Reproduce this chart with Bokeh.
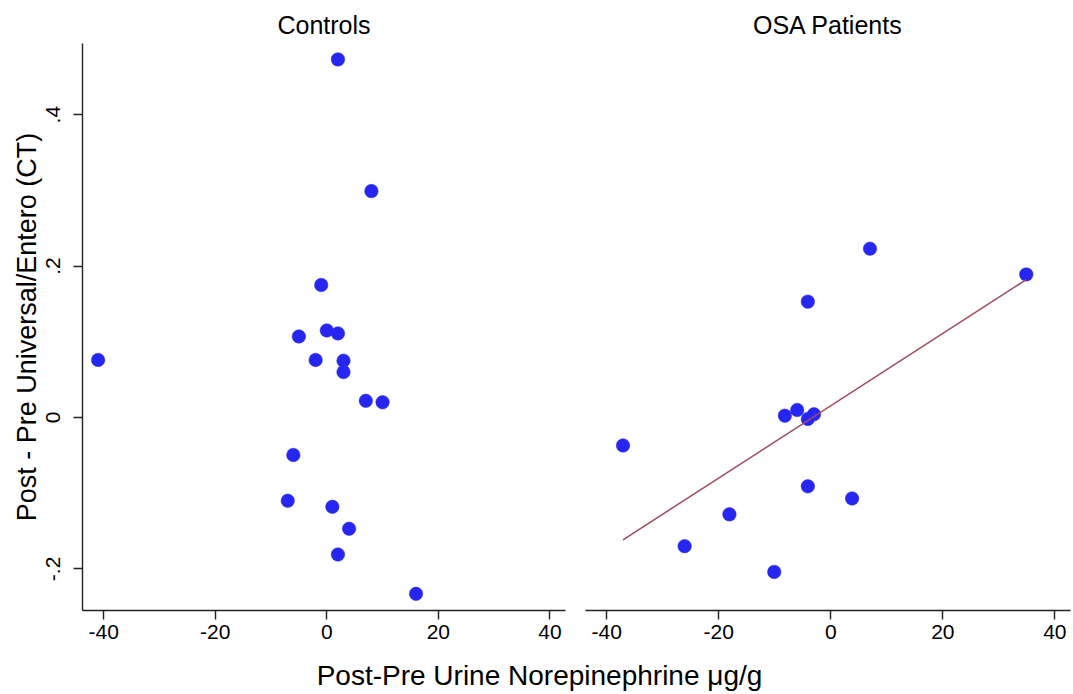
import numpy as np
from bokeh.plotting import figure
from bokeh.layouts import column, row
from bokeh.models import Range1d, FixedTicker, Label
from bokeh.embed import file_html
from bokeh.resources import INLINE

# ---- data ----
ctrl_x = [2, 8, -1, -5, 0, 2, -41, -2, 3, 3, 7, 10, -6, -7, 1, 4, 2, 16]
ctrl_y = [0.473, 0.299, 0.175, 0.107, 0.115, 0.111, 0.076, 0.076, 0.075, 0.060,
          0.022, 0.020, -0.0495, -0.110, -0.118, -0.147, -0.181, -0.233]

osa_x = [7, 34.9, -4.1, -8.2, -6, -4.1, -3, -37.1, -4.1, 3.8, -18.1, -26.1, -10.1]
osa_y = [0.223, 0.189, 0.153, 0.0024, 0.0099, -0.002, 0.0042, -0.037, -0.091,
         -0.107, -0.128, -0.170, -0.204]

panel_titles = ["Controls", "OSA Patients"]
x_ticks = [-40, -20, 0, 20, 40]
x_tick_labels = {-40: "-40", -20: "-20", 0: "0", 20: "20", 40: "40"}
y_ticks = [-0.2, 0, 0.2, 0.4]
y_tick_labels = {-0.2: "-.2", 0: "0", 0.2: ".2", 0.4: ".4"}
x_label = "Post-Pre Urine Norepinephrine \u03bcg/g"
y_label = "Post - Pre Universal/Entero (CT)"

FONT = "Liberation Sans"
PT_COLOR = "#2626f0"
LINE_COLOR = "#a34b5e"
AX_COLOR = "#222222"

x_rng = (-43.8, 42.8)
y_rng = (-0.255, 0.494)

H = 650


def make_panel(title, width, left_border, right_border, with_y):
    p = figure(width=width, height=H, toolbar_location=None, output_backend="svg",
               x_range=Range1d(*x_rng), y_range=Range1d(*y_rng),
               y_axis_location="left" if with_y else None,
               min_border_left=left_border, min_border_right=right_border,
               min_border_top=43, min_border_bottom=40, title=title)
    p.outline_line_color = None
    p.xgrid.visible = False
    p.ygrid.visible = False
    p.title.align = "center"
    p.title.text_font = FONT
    p.title.text_font_size = "25px"
    p.title.text_font_style = "normal"
    p.title.text_color = "black"
    p.title.standoff = 9
    axes = [p.xaxis[0]] + ([p.yaxis[0]] if with_y else [])
    for ax in axes:
        ax.axis_line_color = AX_COLOR
        ax.axis_line_width = 1.4
        ax.major_tick_line_color = AX_COLOR
        ax.major_tick_line_width = 1.4
        ax.major_tick_out = 9
        ax.major_tick_in = 0
        ax.minor_tick_line_color = None
        ax.major_label_text_font = FONT
        ax.major_label_text_font_size = "21px"
        ax.major_label_text_color = "black"
    p.xaxis.ticker = FixedTicker(ticks=x_ticks)
    p.xaxis.major_label_overrides = x_tick_labels
    p.xaxis.major_label_standoff = 5
    if with_y:
        p.yaxis.ticker = FixedTicker(ticks=y_ticks)
        p.yaxis.major_label_overrides = y_tick_labels
        p.yaxis.major_label_orientation = "vertical"
        p.yaxis.major_label_standoff = 13
        p.yaxis.axis_label = y_label
        p.yaxis.axis_label_text_font = FONT
        p.yaxis.axis_label_text_font_size = "27px"
        p.yaxis.axis_label_text_font_style = "normal"
        p.yaxis.axis_label_text_color = "black"
        p.yaxis.axis_label_standoff = 2
    return p


p1 = make_panel(panel_titles[0], 575, 82, 10, True)
p1.scatter(ctrl_x, ctrl_y, size=13.5, fill_color=PT_COLOR, line_color=PT_COLOR,
           line_width=0.5)

p2 = make_panel(panel_titles[1], 497, 10, 2, False)
p2.scatter(osa_x, osa_y, size=13.5, fill_color=PT_COLOR, line_color=PT_COLOR,
           line_width=0.5)
slope, intercept = np.polyfit(osa_x, osa_y, 1)
fx = np.array([min(osa_x), max(osa_x)])
p2.line(fx, slope * fx + intercept, line_color=LINE_COLOR, line_width=1.5)

# bottom strip holding the shared x-axis title
W3 = 1072
H3 = 43
p3 = figure(width=W3, height=H3, toolbar_location=None, output_backend="svg",
            x_range=Range1d(0, W3), y_range=Range1d(0, H3),
            x_axis_location=None, y_axis_location=None, min_border=0)
p3.outline_line_color = None
p3.xgrid.visible = False
p3.ygrid.visible = False
p3.add_layout(Label(x=539, y=18, text=x_label, text_align="center",
                    text_baseline="middle", text_font=FONT,
                    text_font_size="28px", text_color="black"))

layout = column(row(p1, p2), p3)
open("out.html", "w").write(file_html(layout, INLINE))
